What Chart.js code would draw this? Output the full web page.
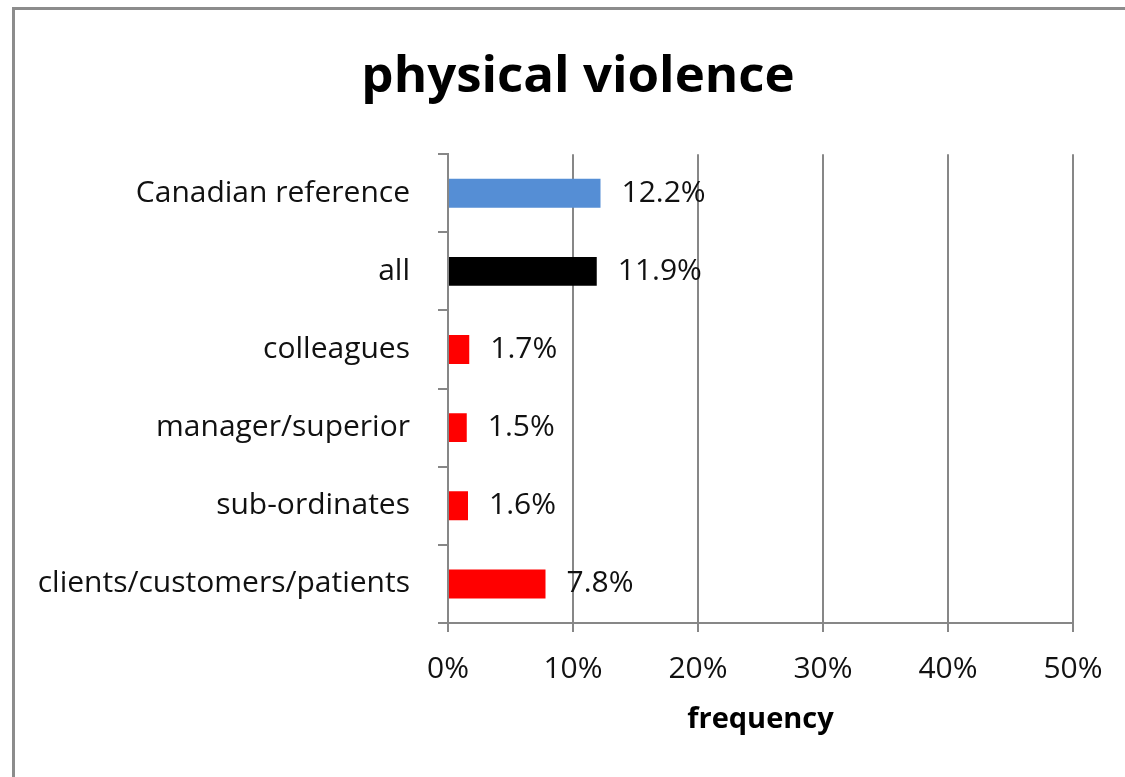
<!DOCTYPE html>
<html>
<head>
<meta charset="utf-8">
<title>physical violence</title>
<script src="https://cdn.jsdelivr.net/npm/chart.js@4.4.1/dist/chart.umd.min.js"></script>
<style>
  body{ margin:0; overflow:hidden; background:#fff; }
  #marco{ position:absolute; left:12px; top:7px; width:1200px; height:820px; border:3px solid #8c8c8c; }
  #contenedor{ position:absolute; left:0; top:0; width:1125px; height:777px; }
</style>
</head>
<body>
<div id="marco"></div>
<div id="contenedor"><canvas id="myChart"></canvas></div>
<script>
// datos de la gráfica
const categorias = ['Canadian reference', 'all', 'colleagues', 'manager/superior', 'sub-ordinates', 'clients/customers/patients'];
const frecuencias = [12.2, 11.9, 1.7, 1.5, 1.6, 7.8];
const colores = ['#558ed5', '#000000', '#ff0000', '#ff0000', '#ff0000', '#ff0000'];
const ticksX = [0, 10, 20, 30, 40, 50];

const gris = '#878787';
Chart.defaults.font.family = "'Open Sans', sans-serif";
Chart.defaults.color = '#111';

// escribe el valor al lado de cada barra
const etiquetasValor = {
    id: 'etiquetasValor',
    afterDatasetsDraw(chart){
        const ctx = chart.ctx;
        const meta = chart.getDatasetMeta(0);
        ctx.save();
        ctx.font = "30px 'Open Sans'";
        ctx.fillStyle = '#111';
        ctx.textAlign = 'left';
        ctx.textBaseline = 'middle';
        meta.data.forEach((barra, i) => {
            ctx.fillText(frecuencias[i].toFixed(1) + '%', barra.x + 21, barra.y);
        });
        ctx.restore();
    }
};

// el título va centrado sobre el marco completo, no solo sobre el área del canvas
const centrarTitulo = {
    id: 'centrarTitulo',
    afterLayout(chart){
        const t = chart.titleBlock;
        if (t){
            t.left = 0;
            t.right = 1156;
            t.width = 1156;
        }
    }
};

var ctx = document.getElementById('myChart').getContext('2d');
window.myChart = new Chart(ctx, {
    type: 'bar',
    data: {
        labels: categorias,
        datasets: [{
            data: frecuencias,
            backgroundColor: colores,
            borderWidth: 0,
            barPercentage: 0.37,
            categoryPercentage: 1
        }]
    },
    options: {
        indexAxis: 'y',
        responsive: true,
        maintainAspectRatio: false,
        animation: false,
        layout: { padding: { left: 0, right: 52, top: 0, bottom: 24 } },
        plugins: {
            legend: { display: false },
            tooltip: { enabled: false },
            title: {
                display: true,
                text: 'physical violence',
                color: '#000',
                font: { size: 51, weight: 'bold' },
                padding: { top: 47, bottom: 46 }
            }
        },
        scales: {
            x: {
                min: ticksX[0],
                max: ticksX[ticksX.length - 1],
                ticks: {
                    stepSize: 10,
                    font: { size: 30 },
                    padding: 19,
                    callback: v => v + '%'
                },
                grid: { color: gris, lineWidth: 2, tickLength: 9 },
                border: { color: gris, width: 2 },
                title: {
                    display: true,
                    text: 'frequency',
                    color: '#000',
                    font: { size: 29, weight: 'bold' },
                    padding: { top: 0, bottom: 16 }
                },
                afterFit(scale){ scale.height = 130; }
            },
            y: {
                ticks: { font: { size: 30 }, padding: 28 },
                grid: { drawOnChartArea: false, color: gris, lineWidth: 2, tickLength: 10 },
                border: { color: gris, width: 2 },
                afterFit(scale){ scale.width = 448; }
            }
        }
    },
    plugins: [etiquetasValor, centrarTitulo]
});
</script>
</body>
</html>
